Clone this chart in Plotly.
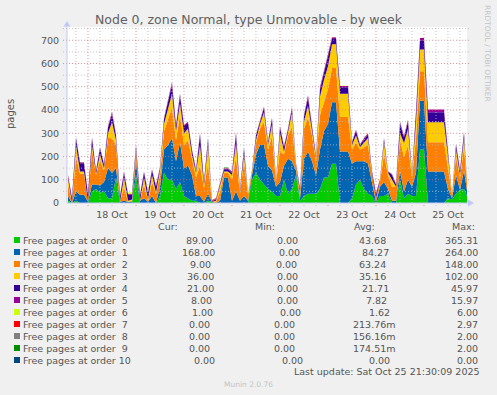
import plotly.graph_objects as go
import pandas as pd

# ---------------- data (2-hour samples) ----------------
times = pd.date_range("2025-10-17 14:00", periods=101, freq="2h")

order0 = [10, 0, 10, 0, 0, 0, 50, 60, 45, 50,
          20, 20, 110, 0, 0, 0, 0, 120, 0, 0,
          0, 0, 0, 30, 130, 100, 100, 60, 90, 30,
          20, 10, 10, 0, 0, 10, 5, 0, 0, 0,
          0, 0, 0, 0, 0, 0, 100, 130, 100, 80,
          60, 50, 30, 30, 100, 40, 60, 120, 10, 30,
          40, 40, 40, 60, 110, 110, 169, 169, 0, 0,
          0, 20, 80, 100, 60, 40, 30, 0, 30, 30,
          40, 0, 0, 100, 20, 40, 30, 30, 230, 230,
          0, 0, 0, 0, 0, 20, 15, 40, 57, 60, 20]
order1 = [20, 0, 40, 36, 36, 5, 30, 20, 30, 40,
          130, 110, 40, 5, 10, 5, 5, 60, 10, 20,
          5, 30, 0, 40, 100, 150, 180, 120, 170, 120,
          140, 110, 20, 30, 5, 30, 0, 0, 10, 110,
          110, 10, 50, 10, 30, 10, 20, 80, 150, 170,
          100, 90, 40, 60, 60, 150, 120, 20, 10, 160,
          180, 140, 80, 170, 200, 230, 264, 264, 222, 222,
          222, 150, 100, 80, 120, 130, 50, 5, 40, 60,
          20, 10, 10, 40, 30, 60, 40, 100, 210, 210,
          136, 136, 136, 136, 136, 40, 5, 80, 0, 80, 5]
order2 = [50, 0, 148, 90, 90, 0, 148, 40, 110, 50,
          130, 148, 100, 0, 60, 0, 5, 40, 0, 60,
          5, 60, 40, 50, 80, 110, 130, 90, 120, 100,
          110, 70, 80, 130, 60, 130, 0, 5, 40, 20,
          20, 90, 148, 30, 148, 25, 10, 50, 70, 100,
          70, 148, 20, 130, 50, 100, 148, 20, 20, 130,
          148, 110, 60, 148, 120, 148, 148, 148, 148, 148,
          148, 60, 80, 50, 60, 80, 40, 15, 20, 120,
          60, 60, 60, 130, 148, 148, 40, 148, 127, 127,
          125, 125, 125, 125, 125, 90, 15, 80, 51, 100, 5]
order3 = [25, 0, 50, 10, 10, 0, 20, 5, 25, 10,
          20, 70, 20, 0, 40, 5, 5, 10, 0, 30,
          5, 30, 5, 20, 30, 50, 60, 40, 50, 50,
          50, 15, 20, 90, 10, 80, 0, 5, 20, 5,
          5, 20, 60, 5, 30, 5, 5, 10, 20, 40,
          20, 50, 5, 80, 10, 15, 60, 5, 5, 30,
          50, 20, 10, 80, 100, 100, 102, 102, 100, 100,
          100, 20, 30, 10, 20, 30, 5, 0, 5, 50,
          10, 30, 0, 30, 60, 70, 10, 70, 93, 93,
          86, 86, 86, 86, 86, 50, 0, 30, 10, 40, 0]
order4 = [10, 20, 28, 35, 35, 30, 30, 12, 25, 15,
          25, 35, 20, 22, 20, 25, 20, 15, 20, 20,
          28, 20, 25, 10, 20, 30, 40, 20, 30, 30,
          25, 20, 10, 40, 15, 25, 3, 5, 10, 10,
          10, 10, 35, 10, 25, 0, 5, 20, 10, 20,
          10, 25, 5, 25, 20, 10, 20, 5, 15, 25,
          35, 15, 10, 30, 30, 45, 22, 22, 28, 28,
          28, 10, 20, 10, 15, 15, 10, 18, 5, 15,
          5, 20, 10, 40, 25, 30, 8, 40, 40, 40,
          43, 43, 43, 43, 43, 20, 0, 20, 20, 20, 0]
order5 = [5, 4, 7, 4, 4, 5, 5, 3, 5, 3,
          5, 10, 5, 5, 5, 5, 5, 5, 5, 5,
          5, 5, 5, 5, 5, 10, 10, 5, 10, 5,
          5, 5, 5, 10, 5, 5, 2, 3, 5, 5,
          5, 5, 10, 3, 5, 0, 2, 5, 5, 5,
          5, 5, 2, 5, 5, 5, 5, 2, 3, 5,
          10, 5, 3, 10, 10, 15, 8, 8, 5, 5,
          5, 3, 5, 3, 5, 5, 3, 5, 2, 5,
          2, 5, 3, 10, 5, 10, 2, 10, 10, 10,
          12, 12, 12, 12, 12, 5, 0, 5, 5, 5, 0]
order6 = [1, 0, 1, 1, 1, 1, 1, 1, 1, 1,
          1, 1, 1, 0, 1, 5, 5, 1, 0, 1,
          5, 1, 1, 1, 1, 1, 1, 1, 1, 1,
          1, 1, 1, 1, 1, 1, 0, 1, 1, 1,
          1, 1, 1, 1, 1, 3, 1, 1, 1, 1,
          1, 1, 1, 1, 1, 1, 1, 1, 1, 1,
          1, 1, 1, 1, 1, 1, 1, 1, 1, 1,
          1, 1, 1, 1, 1, 1, 1, 1, 1, 1,
          1, 1, 1, 1, 1, 1, 1, 1, 0, 0,
          0, 0, 0, 0, 0, 1, 0, 1, 1, 1, 1]
order7 = [0] * 36 + [3, 3] + [0] * 63
order8 = [0] * 43 + [2, 2, 2] + [0] * 55
order9 = [0] * 39 + [2, 2] + [0] * 60
order10 = [0] * 101

series_names = ["Free pages at order\u00a0\u00a00", "Free pages at order\u00a0\u00a01",
                "Free pages at order\u00a0\u00a02", "Free pages at order\u00a0\u00a03",
                "Free pages at order\u00a0\u00a04", "Free pages at order\u00a0\u00a05",
                "Free pages at order\u00a0\u00a06", "Free pages at order\u00a0\u00a07",
                "Free pages at order\u00a0\u00a08", "Free pages at order\u00a0\u00a09",
                "Free pages at order 10"]
series_values = [order0, order1, order2, order3, order4, order5,
                 order6, order7, order8, order9, order10]
colors = ["#00CC00", "#0066B3", "#FF8000", "#FFCC00", "#330099", "#990099",
          "#CCFF00", "#FF0000", "#808080", "#008F00", "#00487D"]

cur_vals = ["89.00", "168.00", "9.00", "36.00", "21.00", "8.00", "1.00", "0.00", "0.00", "0.00", "0.00"]
min_vals = ["0.00"] * 11
avg_vals = ["43.68", "84.27", "63.24", "35.16", "21.71", "7.82", "1.62", "213.76m", "156.16m", "174.51m", "0.00"]
max_vals = ["365.31", "264.00", "148.00", "102.00", "45.97", "15.97", "6.00", "2.97", "2.00", "2.00", "0.00"]

y_ticks = [0, 100, 200, 300, 400, 500, 600, 700]
day_labels = ["18 Oct", "19 Oct", "20 Oct", "21 Oct", "22 Oct", "23 Oct", "24 Oct", "25 Oct"]
label_times = pd.date_range("2025-10-18 12:00", periods=8, freq="1D")

x_start = pd.Timestamp("2025-10-17 13:30")
x_end = pd.Timestamp("2025-10-25 21:30")
Y_MAX = 757

# ---------------- layout geometry ----------------
W_FIG, H_FIG = 497, 395
L, T, PW, PH = 67, 27, 400, 176
FONT = "DejaVu Sans"
TXT = "#555555"


def px(x):
    return (x - L) / PW


def py(y):
    return (T + PH - y) / PH


fig = go.Figure()
for name, vals, col in zip(series_names, series_values, colors):
    fig.add_trace(go.Scatter(
        x=times, y=vals, name=name, mode="lines", stackgroup="one",
        line=dict(width=0, color=col), fillcolor=col, hoverinfo="skip",
        showlegend=False))

shapes = []
# horizontal grid (drawn above areas, like rrdtool)
for v in range(50, Y_MAX, 50):
    col = "rgba(220,110,110,0.75)" if v % 100 == 0 else "rgba(185,185,185,0.85)"
    shapes.append(dict(type="line", xref="paper", yref="y", x0=px(63), x1=px(469),
                       y0=v, y1=v, line=dict(color=col, width=1, dash="1px,2px"),
                       layer="above"))
# vertical grid every 6 hours
for t in pd.date_range("2025-10-17 18:00", x_end, freq="6h"):
    col = "rgba(220,110,110,0.75)" if t.hour == 0 else "rgba(185,185,185,0.85)"
    shapes.append(dict(type="line", xref="x", yref="paper", x0=t, x1=t,
                       y0=py(206), y1=py(T), line=dict(color=col, width=1, dash="1px,2px"),
                       layer="above"))
# axes with arrows
AX = "#C4C8F4"
shapes.append(dict(type="line", xref="paper", yref="paper", x0=0, x1=0, y0=0, y1=py(25),
                   line=dict(color=AX, width=1), layer="above"))
shapes.append(dict(type="line", xref="paper", yref="paper", x0=0, x1=px(470), y0=0, y1=0,
                   line=dict(color=AX, width=1), layer="above"))
shapes.append(dict(type="path", xref="paper", yref="paper",
                   path=f"M {px(63.5)} {py(26.5)} L {px(70.5)} {py(26.5)} L {px(67)} {py(21)} Z",
                   fillcolor=AX, line=dict(width=0), layer="above"))
shapes.append(dict(type="path", xref="paper", yref="paper",
                   path=f"M {px(468)} {py(199.5)} L {px(468)} {py(206.5)} L {px(474)} {py(203)} Z",
                   fillcolor=AX, line=dict(width=0), layer="above"))

annotations = []
# title
annotations.append(dict(text="Node 0, zone Normal, type Unmovable - by week", x=px(248.5), y=py(19),
                        xref="paper", yref="paper", showarrow=False, xanchor="center", yanchor="middle",
                        font=dict(family=FONT, size=12.5, color="#606060")))
# y title
annotations.append(dict(text="pages", x=px(11), y=py(114), xref="paper", yref="paper", showarrow=False,
                        textangle=-90, xanchor="center", yanchor="middle",
                        font=dict(family=FONT, size=10, color=TXT)))
# rrdtool credit
annotations.append(dict(text="RRDTOOL / TOBI OETIKER", x=px(488), y=py(53), xref="paper", yref="paper",
                        showarrow=False, textangle=90, xanchor="center", yanchor="middle",
                        font=dict(family=FONT, size=7.5, color="#C4C4C4")))
# legend header
for txt, xr in [("Cur:", 180), ("Min:", 277), ("Avg:", 377), ("Max:", 477)]:
    annotations.append(dict(text=txt, x=px(xr), y=py(227), xref="paper", yref="paper", showarrow=False,
                            xanchor="right", yanchor="middle", font=dict(family=FONT, size=9.5, color=TXT)))
cur_r = [215, 217, 213, 216, 216, 214, 215, 212, 212, 212, 217]
min_r = [300, 302, 299, 300, 300, 300, 303, 297, 297, 297, 305]
avg_r = [388, 391, 388, 388, 391, 389, 392, 398, 398, 398, 392]
for i in range(11):
    yy = 240 + 12 * i
    shapes.append(dict(type="rect", xref="paper", yref="paper", x0=px(14), x1=px(20),
                       y0=py(yy + 3), y1=py(yy - 3), fillcolor=colors[i], line=dict(width=0)))
    annotations.append(dict(text=series_names[i], x=px(20.5), y=py(yy), xref="paper", yref="paper",
                            showarrow=False, xanchor="left", yanchor="middle",
                            font=dict(family=FONT, size=9.5, color=TXT)))
    for vals, xr in [(cur_vals, cur_r[i]), (min_vals, min_r[i]), (avg_vals, avg_r[i]), (max_vals, 480)]:
        annotations.append(dict(text=vals[i], x=px(xr), y=py(yy), xref="paper", yref="paper",
                                showarrow=False, xanchor="right", yanchor="middle",
                                font=dict(family=FONT, size=9.5, color=TXT)))
annotations.append(dict(text="Last update: Sat Oct 25 21:30:09 2025", x=px(482), y=py(371),
                        xref="paper", yref="paper", showarrow=False, xanchor="right", yanchor="middle",
                        font=dict(family=FONT, size=9.5, color=TXT)))
annotations.append(dict(text="Munin 2.0.76", x=px(248), y=py(384), xref="paper", yref="paper",
                        showarrow=False, xanchor="center", yanchor="middle",
                        font=dict(family=FONT, size=7.5, color="#C4C4C4")))

fig.update_layout(
    width=W_FIG, height=H_FIG,
    margin=dict(l=L, r=W_FIG - L - PW, t=T, b=H_FIG - T - PH, pad=0),
    paper_bgcolor="#F0F0F0", plot_bgcolor="#FFFFFF",
    showlegend=False, shapes=shapes, annotations=annotations,
    hovermode=False, dragmode=False,
    font=dict(family=FONT, size=9.5, color=TXT),
    xaxis=dict(type="date", range=[x_start, x_end], showgrid=False, zeroline=False,
               showline=False, tickvals=list(label_times), ticktext=day_labels,
               ticks="outside", ticklen=3, tickcolor="rgba(0,0,0,0)",
               tickfont=dict(family=FONT, size=9.5, color=TXT)),
    yaxis=dict(range=[0, Y_MAX], showgrid=False, zeroline=False, showline=False,
               tickvals=y_ticks, ticktext=[str(v) for v in y_ticks],
               ticks="outside", ticklen=5, tickcolor="rgba(0,0,0,0)",
               tickfont=dict(family=FONT, size=9.5, color=TXT)),
)

fig.write_html("out.html", config={"displayModeBar": False, "staticPlot": True},
               post_script="document.body.style.margin='0';document.body.style.background='#F0F0F0';")
